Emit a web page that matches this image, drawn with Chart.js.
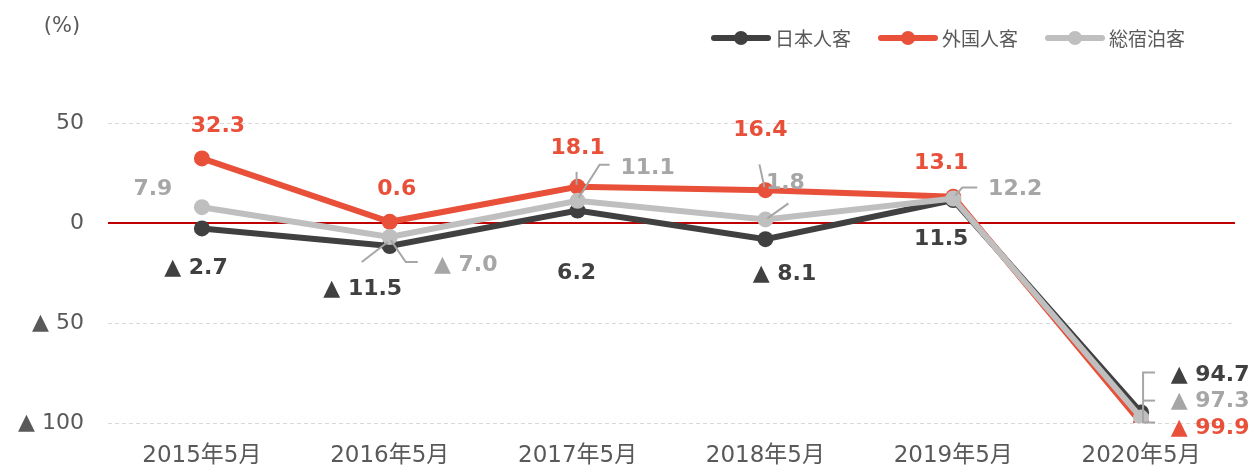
<!DOCTYPE html>
<html>
<head>
<meta charset="utf-8">
<script src="https://cdn.jsdelivr.net/npm/chart.js@4/dist/chart.umd.min.js"></script>
<style>
  html, body { margin: 0; padding: 0; background: #fff; }
  #wrap { width: 1256px; height: 468px; }
</style>
</head>
<body>
<div id="wrap"><canvas id="chart" width="1256" height="468"></canvas></div>
<script>
// データ
const categories = ['2015年5月', '2016年5月', '2017年5月', '2018年5月', '2019年5月', '2020年5月'];
const japanese = [-2.7, -11.5, 6.2, -8.1, 11.5, -94.7];
const foreign = [32.3, 0.6, 18.1, 16.4, 13.1, -99.9];
const total = [7.9, -7.0, 11.1, 1.8, 12.2, -97.3];
const seriesNames = ['日本人客', '外国人客', '総宿泊客'];
const yTicks = [-100, -50, 0, 50];

const COLORS = ['#404040', '#e8503a', '#bfbfbf'];
const LABEL_COLORS = ['#404040', '#e8503a', '#a6a6a6'];
const FONT = "'DejaVu Sans', 'Noto Sans CJK JP', sans-serif";

// ラベル位置（点からのずれ）
const labelOffsets = [
    [[-6, 40], [-27, 43], [-1, 63], [19, 35], [-12, 39], [69, -37]],
    [[16, -32], [7, -33], [0, -39], [-5, -60], [-12, -34], [69, 5]],
    [[-49, -18], [76, 28], [70, -33], [20, -36], [62, -9], [69, -16]]
];

// 引き出し線（総宿泊客の点からのずれ）
const leaders = [
    [],
    [[[-28, 25], [-2, 5]], [[1, 3], [16, 25], [28, 25]]],
    [[[-1, -16], [-1, -29]], [[1, -3], [22, -36], [32, -36]]],
    [[[-6, -55], [-1, -32]], [[2, -1], [23, -16]]],
    [[[2, -3], [9, -11], [24, -11]]],
    [[[14, -45], [2, -45], [2, 5], [14, 5]], [[2, -17], [14, -17]]]
];

const fmt = v => v < 0 ? '▲ ' + Math.abs(v).toFixed(1) : v.toFixed(1);

const extras = {
    id: 'extras',
    beforeDatasetsDraw(chart) {
        const { ctx, chartArea, scales } = chart;
        const y0 = scales.y.getPixelForValue(0);
        ctx.save();
        ctx.strokeStyle = '#c00000';
        ctx.lineWidth = 2;
        ctx.beginPath();
        ctx.moveTo(chartArea.left, y0);
        ctx.lineTo(chartArea.right, y0);
        ctx.stroke();
        ctx.restore();
    },
    afterDatasetsDraw(chart) {
        const { ctx } = chart;
        ctx.save();
        // 引き出し線
        const totalMeta = chart.getDatasetMeta(2);
        ctx.strokeStyle = '#a6a6a6';
        ctx.lineWidth = 2;
        leaders.forEach((group, i) => {
            const p = totalMeta.data[i];
            group.forEach(line => {
                ctx.beginPath();
                line.forEach((pt, k) => {
                    if (k === 0) ctx.moveTo(p.x + pt[0], p.y + pt[1]);
                    else ctx.lineTo(p.x + pt[0], p.y + pt[1]);
                });
                ctx.stroke();
            });
        });
        // データラベル
        ctx.font = 'bold 22px ' + FONT;
        ctx.textAlign = 'center';
        ctx.textBaseline = 'middle';
        chart.data.datasets.forEach((ds, di) => {
            const meta = chart.getDatasetMeta(di);
            ctx.fillStyle = LABEL_COLORS[di];
            ds.data.forEach((v, i) => {
                const p = meta.data[i];
                const off = labelOffsets[di][i];
                ctx.fillText(fmt(v), p.x + off[0], p.y + off[1]);
            });
        });
        ctx.restore();
    },
    afterDraw(chart) {
        const { ctx } = chart;
        ctx.save();
        ctx.fillStyle = '#595959';
        ctx.font = '21px ' + FONT;
        ctx.textBaseline = 'middle';
        ctx.textAlign = 'center';
        ctx.fillText('(%)', 62, 27);
        // 凡例
        ctx.textAlign = 'left';
        const starts = [711, 878, 1045];
        const ly = 38;
        [0, 1, 2].forEach(i => {
            const x = starts[i];
            ctx.strokeStyle = COLORS[i];
            ctx.lineWidth = 6;
            ctx.lineCap = 'round';
            ctx.beginPath();
            ctx.moveTo(x + 3, ly);
            ctx.lineTo(x + 57, ly);
            ctx.stroke();
            ctx.fillStyle = COLORS[i];
            ctx.beginPath();
            ctx.arc(x + 30, ly, 7, 0, Math.PI * 2);
            ctx.fill();
            ctx.fillStyle = '#595959';
            ctx.font = "19px 'Noto Sans CJK JP', sans-serif";
            ctx.fillText(seriesNames[i], x + 64, ly + 1);
        });
        ctx.restore();
    }
};

const makeDs = (label, data, i, order) => ({
    label: label,
    data: data,
    borderColor: COLORS[i],
    backgroundColor: COLORS[i],
    pointBackgroundColor: COLORS[i],
    pointBorderColor: COLORS[i],
    borderWidth: 6,
    pointRadius: 8,
    pointBorderWidth: 0,
    tension: 0,
    order: order
});

new Chart(document.getElementById('chart'), {
    type: 'line',
    data: {
        labels: categories,
        datasets: [
            makeDs(seriesNames[0], japanese, 0, 2),
            makeDs(seriesNames[1], foreign, 1, 1),
            makeDs(seriesNames[2], total, 2, 0)
        ]
    },
    options: {
        responsive: false,
        animation: false,
        devicePixelRatio: 1,
        layout: { padding: { top: 123, right: 21, left: 0, bottom: 0 } },
        plugins: {
            legend: { display: false },
            tooltip: { enabled: false }
        },
        scales: {
            x: {
                offset: true,
                grid: { display: false, drawTicks: false },
                border: { display: false },
                ticks: {
                    color: '#595959',
                    font: { family: FONT, size: 23 },
                    padding: 19,
                    maxRotation: 0
                },
                afterFit: s => { s.height = 45; }
            },
            y: {
                min: -100,
                max: 50,
                afterBuildTicks: s => { s.ticks = yTicks.map(v => ({ value: v })); },
                grid: {
                    drawTicks: false,
                    color: c => c.tick && c.tick.value === 0 ? 'transparent' : '#d9d9d9',
                    lineWidth: 1
                },
                border: { display: false, dash: [4, 3] },
                ticks: {
                    color: '#595959',
                    font: { family: FONT, size: 22 },
                    padding: 24,
                    callback: v => v < 0 ? '▲ ' + Math.abs(v) : String(v)
                },
                afterFit: s => { s.width = 108; }
            }
        }
    },
    plugins: [extras]
});
</script>
</body>
</html>
